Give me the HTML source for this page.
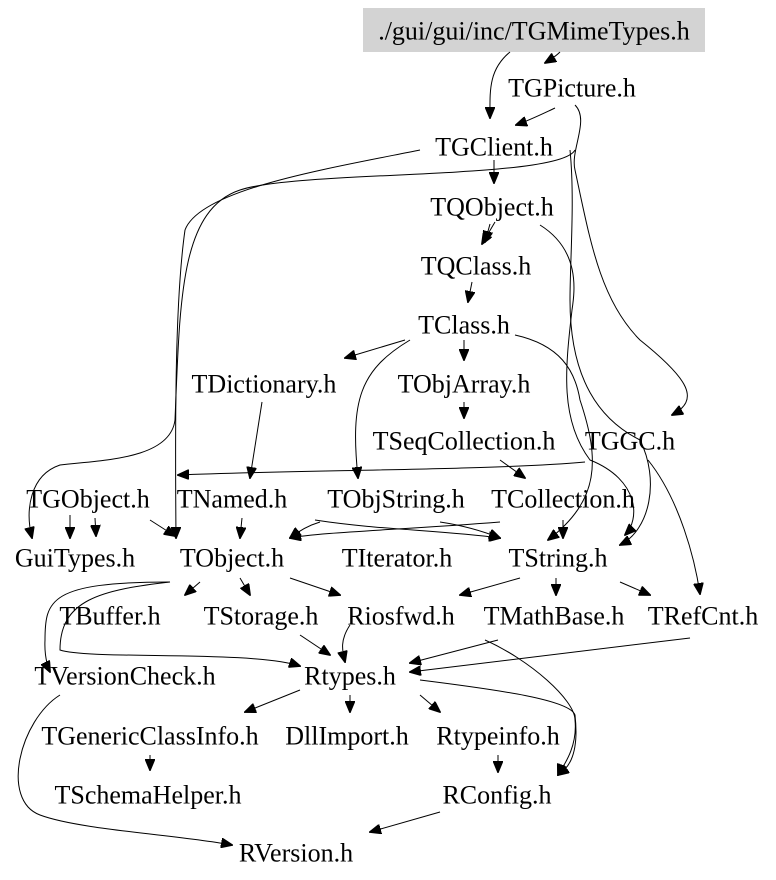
<!DOCTYPE html>
<html><head><meta charset="utf-8"><style>
html,body{margin:0;padding:0;background:#fff;}
svg{display:block}
text{font-family:"Liberation Serif",serif;font-size:26px;fill:#000;text-anchor:middle;dominant-baseline:central}
path{fill:none;stroke:#000;stroke-width:1}
</style></head><body>
<svg width="776" height="880" viewBox="0 0 776 880" xmlns="http://www.w3.org/2000/svg">
<defs><marker id="a" markerWidth="12" markerHeight="10" refX="11" refY="5" orient="auto" markerUnits="userSpaceOnUse"><path d="M0,0 L12,5 L0,10 Z" style="fill:#000;stroke:#000"/></marker></defs>
<rect x="363" y="8" width="342" height="44" fill="#d3d3d3"/>
<g marker-end="url(#a)">
<path d="M510,52 C488,70 490,92 490,118"/>
<path d="M560,52 C556,56 550,60 545,63"/>
<path d="M555,108 C540,115 530,120 516,125"/>
<path d="M575,105 C590,120 570,150 575,170 C590,240 600,300 640,340 C690,380 700,400 672,415"/>
<path d="M570,150 C575,200 570,260 570,300 C570,380 600,420 640,440 C660,480 650,530 620,545"/>
<path d="M420,150 C320,170 200,190 185,230 C175,300 175,420 176,538"/>
<path d="M575,150 C560,180 300,170 240,190 C180,210 180,300 175,420 C170,460 100,460 60,465 C30,475 25,510 32,538"/>
<path d="M494,160 L494,183"/>
<path d="M495,222 L482,244"/>
<path d="M490,224 L485,242"/>
<path d="M540,225 C580,250 575,290 572,310 C565,370 560,420 590,460 C640,480 640,520 625,535"/>
<path d="M472,282 L468,302"/>
<path d="M405,340 L345,358"/>
<path d="M464,340 L464,360"/>
<path d="M410,340 C360,370 350,400 358,478"/>
<path d="M515,335 C560,345 575,370 580,400 C600,460 600,500 548,540"/>
<path d="M464,402 L464,418"/>
<path d="M500,460 L525,478"/>
<path d="M262,402 L250,478"/>
<path d="M585,462 C500,470 300,470 178,475"/>
<path d="M648,460 C680,500 695,560 700,594"/>
<path d="M70,515 L70,538"/>
<path d="M95,518 L96,536"/>
<path d="M150,520 L175,536"/>
<path d="M242,518 L240,538"/>
<path d="M315,520 C380,530 440,530 500,538"/>
<path d="M320,522 C310,525 300,530 290,538"/>
<path d="M440,522 C460,525 480,530 500,538"/>
<path d="M500,522 C400,530 320,532 290,538"/>
<path d="M563,520 L563,538"/>
<path d="M200,582 L185,595"/>
<path d="M240,578 L250,595"/>
<path d="M290,578 L340,595"/>
<path d="M170,582 C50,582 45,600 45,640 C44,660 50,672 50,672"/>
<path d="M170,582 C100,590 60,600 60,650 C90,660 250,650 300,666"/>
<path d="M520,578 L460,595"/>
<path d="M556,578 L556,595"/>
<path d="M620,582 L650,595"/>
<path d="M300,635 L330,655"/>
<path d="M350,625 C340,640 342,650 345,662"/>
<path d="M498,640 L410,663"/>
<path d="M485,640 C530,660 575,700 575,720 C578,750 560,770 558,775"/>
<path d="M690,638 L410,672"/>
<path d="M300,690 L245,712"/>
<path d="M350,695 L350,712"/>
<path d="M420,695 L440,712"/>
<path d="M420,680 C500,690 570,700 575,715 C580,760 565,770 558,775"/>
<path d="M150,755 L150,770"/>
<path d="M498,755 L498,772"/>
<path d="M440,812 L370,832"/>
<path d="M60,695 C20,720 0,800 40,815 C80,830 180,835 232,845"/>
</g>
<text x="534" y="31">./gui/gui/inc/TGMimeTypes.h</text>
<text x="572" y="88">TGPicture.h</text>
<text x="494" y="147">TGClient.h</text>
<text x="492" y="207">TQObject.h</text>
<text x="476" y="266">TQClass.h</text>
<text x="464" y="325">TClass.h</text>
<text x="264" y="384">TDictionary.h</text>
<text x="464" y="384">TObjArray.h</text>
<text x="464" y="441">TSeqCollection.h</text>
<text x="630" y="441">TGGC.h</text>
<text x="88" y="499">TGObject.h</text>
<text x="232" y="499">TNamed.h</text>
<text x="396" y="499">TObjString.h</text>
<text x="563" y="499">TCollection.h</text>
<text x="75" y="558">GuiTypes.h</text>
<text x="232" y="558">TObject.h</text>
<text x="397" y="558">TIterator.h</text>
<text x="558" y="558">TString.h</text>
<text x="110" y="616">TBuffer.h</text>
<text x="261" y="616">TStorage.h</text>
<text x="401" y="616">Riosfwd.h</text>
<text x="554" y="616">TMathBase.h</text>
<text x="703" y="616">TRefCnt.h</text>
<text x="125" y="676">TVersionCheck.h</text>
<text x="350" y="676">Rtypes.h</text>
<text x="150" y="736">TGenericClassInfo.h</text>
<text x="347" y="736">DllImport.h</text>
<text x="498" y="736">Rtypeinfo.h</text>
<text x="148" y="795">TSchemaHelper.h</text>
<text x="497" y="795">RConfig.h</text>
<text x="296" y="853">RVersion.h</text>
</svg>
</body></html>
